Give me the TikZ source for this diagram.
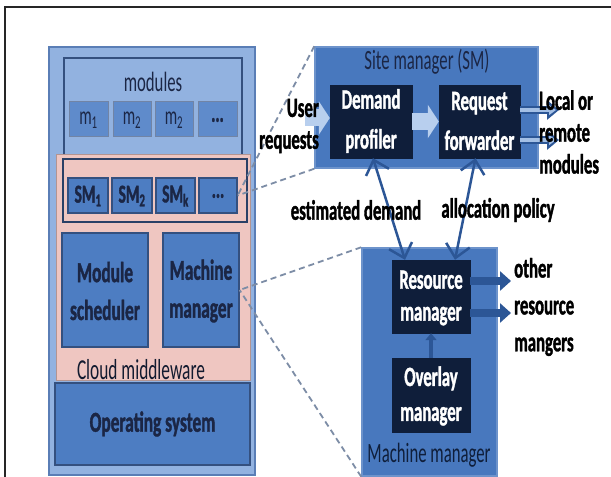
\documentclass[tikz,border=0pt]{standalone}
\usepackage{fontspec}
\setmainfont{Carlito}[FakeStretch=0.6, BoldFeatures={FakeBold=1.3}]
\usetikzlibrary{arrows.meta,fit}
\definecolor{lb}{HTML}{92B2E0}
\definecolor{lbd}{HTML}{5A7EB6}
\definecolor{mb}{HTML}{4D7DC2}
\definecolor{mbl}{HTML}{5F8BCB}
\definecolor{smb}{HTML}{4878BE}
\definecolor{nv}{HTML}{0F1E3A}
\definecolor{pk}{HTML}{EFC6C1}
\definecolor{txt}{HTML}{1B2645}
\definecolor{ab}{HTML}{2C5696}
\definecolor{la}{HTML}{B8CFEE}
\definecolor{dl}{HTML}{7D8DA6}
\definecolor{bd}{HTML}{34507F}
\begin{document}
\begin{tikzpicture}[x=1bp,y=-1bp,
  area/.style={inner sep=0, line width=1.5bp},
  mbox/.style={draw=bd!70, fill=mbl, line width=1bp, inner sep=0},
  mtxt/.style={inner sep=0, text=txt, font=\fontsize{26}{30}\selectfont},
  smbox/.style={draw=bd, fill=mb, line width=1.2bp, inner sep=0},
  smtxt/.style={inner sep=0, text=txt, font=\bfseries\fontsize{26}{30}\selectfont},
  bigtxt/.style={inner sep=0, text=txt, align=center, font=\bfseries\fontsize{29}{38}\selectfont},
  navybox/.style={draw=nv, fill=nv, inner sep=0},
  navytxt/.style={inner sep=0, text=white, align=center, font=\bfseries\fontsize{28}{40}\selectfont},
  regtxt/.style={inner sep=0, text=txt, font=\fontsize{28}{32}\selectfont},
  lbl/.style={inner sep=0, text=black, font=\bfseries\fontsize{28}{32}\selectfont},
  dashln/.style={draw=dl, line width=1.8bp, dash pattern=on 6bp off 4bp},
  fatlight/.style={draw=la, line width=17bp, -{Triangle[length=11bp,width=33bp]}},
  outdark/.style={draw=ab, line width=8bp, -{Triangle[length=12bp,width=19bp]}},
  outlight/.style={draw=la!80!mb, line width=3.5bp, shorten >=3bp, -{Triangle[length=7bp,width=10bp]}},
  fatdark/.style={draw=ab, line width=8bp, -{Triangle[length=11bp,width=19bp]}},
  dbl/.style={draw=ab, line width=2.5bp, {Straight Barb[length=13bp,width=24bp]}-{Straight Barb[length=13bp,width=24bp]}},
  uparr/.style={draw=ab, line width=4bp, -{Triangle[length=7bp,width=11bp]}}
]
\fill[white] (0,0) rectangle (611,477);
\useasboundingbox (0,0) rectangle (611,477);
\coordinate (fa) at (611,7);
\coordinate (fb) at (5,7);
\coordinate (fc) at (5,477);
\draw[line width=1.6bp, black!85] (fa) -- (fb) -- (fc);

% ---------- left stack ----------
\node[area, draw=lbd, fill=lb, fit={(49,47)(255,475)}] (outer) {};
\node[area, draw=bd, fill=lb, fit={(64,58)(242,155)}] (modbox) {};
\node[regtxt] (modlbl) at (153,82) {modules};
\node[mbox, fit={(69,102)(108,137)}] (m1) {};
\node[mbox, fit={(113,102)(151,137)}] (m2) {};
\node[mbox, fit={(155,102)(193,137)}] (m3) {};
\node[mbox, fit={(198,102)(237,137)}] (m4) {};
\node[mtxt] (m1t) at (88.5,120) {m\textsubscript{1}};
\node[mtxt] (m2t) at (132,120) {m\textsubscript{2}};
\node[mtxt] (m3t) at (174,120) {m\textsubscript{2}};
\node[mtxt] (m4t) at (217.5,120) {\textbf{...}};

\node[area, line width=1bp, draw=pk!75!black, fill=pk, fit={(56,155)(250,380)}] (mw) {};
\node[area, line width=1.2bp, draw=bd!80!black, fit={(63,159)(247,222)}] (smrow) {};
\node[smbox, fit={(68,178)(108,213)}] (sm1) {};
\node[smbox, fit={(112,178)(152,213)}] (sm2) {};
\node[smbox, fit={(156,178)(195,213)}] (smk) {};
\node[smbox, fit={(199,178)(237,213)}] (smd) {};
\node[smtxt] (sm1t) at (88,196) {SM\textsubscript{1}};
\node[smtxt] (sm2t) at (132,196) {SM\textsubscript{2}};
\node[smtxt] (smkt) at (175.5,196) {SM\textsubscript{k}};
\node[smtxt] (smdt) at (218,196) {...};
\node[smbox, fit={(62,233)(148,347)}] (msched) {};
\node[smbox, fit={(163,233)(239,347)}] (mmgrL) {};
\node[bigtxt] (mschedt) at (105,291) {Module\\scheduler};
\node[bigtxt] (mmgrLt) at (201,291) {Machine\\manager};
\node[regtxt, text=txt!70!black, font=\fontsize{29}{32}\selectfont] (cloud) at (141,370) {Cloud middleware};
\node[smbox, fit={(55,383)(250,465)}] (os) {};
\node[bigtxt] (ost) at (152.5,424) {Operating system};

% ---------- site manager ----------
\node[area, draw=smb!80!white, fill=smb, fit={(315,47)(538,168)}] (site) {};
\node[regtxt] (sitelbl) at (427,62) {Site manager (SM)};
\node[navybox, fit={(330,85)(412,158)}] (dp) {};
\node[navybox, fit={(439,85)(520,158)}] (rf) {};
\node[navytxt] (dpt) at (371,121) {Demand\\profiler};
\node[navytxt] (rft) at (479.5,121) {Request\\forwarder};

% ---------- machine manager (right) ----------
\node[area, draw=smb!80!white, fill=smb, fit={(362,248)(497,476)}] (mmR) {};
\node[navybox, fit={(392,260)(470,333)}] (rm) {};
\node[navybox, fit={(392,358)(470,432)}] (om) {};
\node[navytxt, font=\bfseries\fontsize{28}{32}\selectfont] (rmt) at (431,298) {Resource\\manager};
\node[navytxt, font=\bfseries\fontsize{28}{35}\selectfont] (omt) at (431,396) {Overlay\\manager};
\node[regtxt, text=nv] (mmlbl) at (429,455) {Machine manager};

% ---------- dashed connectors ----------
\draw[dashln] (site.north west) -- (smd.east);
\draw[dashln] (site.south west) -- (smd.east);
\draw[dashln] (mmR.north west) -- (mmgrL.east);
\draw[dashln] (mmR.south west) -- (mmgrL.east);

% ---------- arrows ----------
\coordinate (ur) at (305,118);
\draw[fatlight] (ur) -- (dp.west |- ur);
\draw[fatlight] (dp.east) -- (rf.west);
\coordinate (lo1) at (559,110);
\coordinate (lo2) at (559,140);
\draw[outdark] (rf.east |- lo1) -- (lo1);
\draw[outlight] (rf.east |- lo1) -- (lo1);
\draw[outdark] (rf.east |- lo2) -- (lo2);
\draw[outlight] (rf.east |- lo2) -- (lo2);
\coordinate (o1) at (511,281);
\coordinate (o2) at (511,313);
\draw[fatdark] (rm.east |- o1) -- (o1);
\draw[fatdark] (rm.east |- o2) -- (o2);
\draw[uparr] (om.north) -- (rm.south);
\draw[dbl] ([xshift=2bp]dp.south) -- ([xshift=-26bp]rm.north);
\draw[dbl] ([xshift=-4bp]rf.south) -- ([xshift=24bp]rm.north);

% ---------- labels ----------
\node[lbl, align=right, anchor=east] (user) at (319,126) {User\\requests};
\node[lbl, align=left, anchor=west, font=\bfseries\fontsize{28}{32}\selectfont] (local) at (539,132) {Local or\\remote\\modules};
\node[lbl, align=left, anchor=west, font=\bfseries\fontsize{28}{37}\selectfont] (other) at (514,307) {other\\resource\\mangers};
\node[lbl] (est) at (356,210) {estimated demand};
\node[lbl] (alloc) at (498,210) {allocation policy};
\end{tikzpicture}
\end{document}
